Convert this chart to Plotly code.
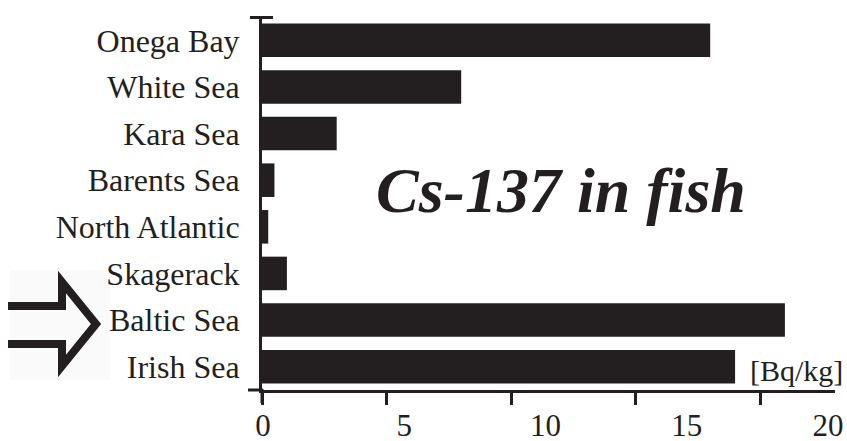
import plotly.graph_objects as go

categories = ["Onega Bay", "White Sea", "Kara Sea", "Barents Sea",
              "North Atlantic", "Skagerack", "Baltic Sea", "Irish Sea"]
values = [18, 8, 3, 0.5, 0.25, 1, 21, 19]
tick_values = [0, 5, 10, 15, 20]
tick_labels = ["0", "5", "10", "15", "20"]
title_text = "Cs-137 in fish"
unit_text = "[Bq/kg]"

INK = "#231f20"
FONT = "Liberation Serif, Times New Roman, Times, serif"
W, H = 847, 441
L, R, T, B = 262, 12, 17, 51
PW, PH = W - L - R, H - T - B


def px(x):
    return (x - L) / PW


def py(y):
    return (H - B - y) / PH


fig = go.Figure()
fig.add_trace(go.Bar(
    x=values, y=categories, orientation="h",
    marker=dict(color=INK, line=dict(width=0)), width=0.72,
    xaxis="x", yaxis="y", showlegend=False, hoverinfo="skip",
))
# invisible helper so the label axis is drawn
fig.add_trace(go.Scatter(
    x=[tick_values[0]], y=[categories[0]], xaxis="x2", yaxis="y",
    mode="markers", marker=dict(opacity=0), showlegend=False, hoverinfo="skip",
))

shapes = [
    dict(type="rect", xref="paper", yref="paper", x0=px(10), x1=px(110),
         y0=py(380), y1=py(270), fillcolor="#fafafa", line=dict(width=0), layer="below"),
    dict(type="path", xref="paper", yref="paper",
         path=f"M {px(8)},{py(306)} L {px(62)},{py(306)} L {px(62)},{py(282)} "
              f"L {px(96)},{py(324)} L {px(62)},{py(366)} L {px(62)},{py(344)} L {px(8)},{py(344)}",
         line=dict(color=INK, width=8)),
    dict(type="line", xref="paper", yref="paper", x0=px(262), x1=px(262),
         y0=py(389), y1=py(403), line=dict(color=INK, width=3)),
    dict(type="line", xref="paper", yref="paper", x0=px(248), x1=px(263),
         y0=py(390), y1=py(390), line=dict(color=INK, width=3)),
    dict(type="line", xref="paper", yref="paper", x0=px(250), x1=px(273),
         y0=py(17.5), y1=py(17.5), line=dict(color=INK, width=3)),
]

annotations = [
    dict(text=title_text, xref="paper", yref="paper", x=px(561), y=py(190),
         xanchor="center", yanchor="middle", showarrow=False,
         font=dict(family=FONT, size=64, color=INK, weight="bold", style="italic")),
    dict(text=unit_text, xref="paper", yref="paper", x=px(748), y=py(370),
         xanchor="left", yanchor="middle", showarrow=False,
         font=dict(family=FONT, size=30, color=INK)),
]

fig.update_layout(
    width=W, height=H, autosize=False,
    margin=dict(l=L, r=R, t=T, b=B, pad=0, autoexpand=False),
    paper_bgcolor="white", plot_bgcolor="white",
    font=dict(family=FONT, color=INK),
    showlegend=False,
    shapes=shapes, annotations=annotations,
    xaxis=dict(range=[0, PW / 24.9], tickvals=tick_values, showticklabels=False,
               ticks="outside", ticklen=12, tickwidth=3, tickcolor=INK,
               showline=True, linewidth=3, linecolor=INK, automargin=False,
               showgrid=False, zeroline=False, fixedrange=True),
    xaxis2=dict(overlaying="x", anchor="y", side="bottom",
                range=[-1 / 28.35, (835 - 261) / 28.35],
                tickvals=tick_values, ticktext=tick_labels,
                ticks="outside", ticklen=8, tickcolor="rgba(0,0,0,0)",
                showline=False, showgrid=False, zeroline=False, automargin=False,
                tickfont=dict(family=FONT, size=31, color=INK)),
    yaxis=dict(categoryorder="array", categoryarray=categories, autorange="reversed",
               showline=True, linewidth=3, linecolor=INK, ticks="",
               ticklabelstandoff=13, showgrid=False, zeroline=False, automargin=False,
               tickfont=dict(family=FONT, size=32, color=INK)),
)

fig.write_html(
    "out.html",
    config={"displayModeBar": False},
    post_script="document.body.style.margin='0';document.body.style.padding='0';"
                "document.body.style.overflow='hidden';",
)
